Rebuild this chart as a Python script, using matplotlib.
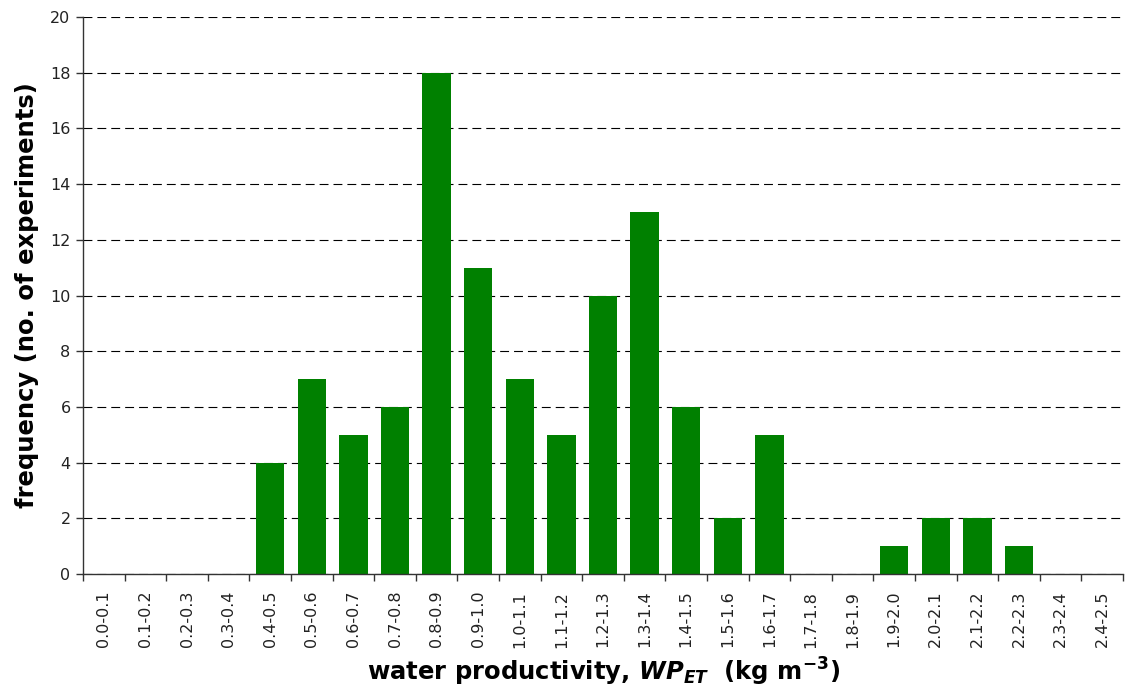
"""Histogram of water productivity (WP_ET) across experiments."""

import matplotlib

matplotlib.use("Agg")
import matplotlib.pyplot as plt
import numpy as np

bin_labels = [
    "0.0-0.1", "0.1-0.2", "0.2-0.3", "0.3-0.4", "0.4-0.5",
    "0.5-0.6", "0.6-0.7", "0.7-0.8", "0.8-0.9", "0.9-1.0",
    "1.0-1.1", "1.1-1.2", "1.2-1.3", "1.3-1.4", "1.4-1.5",
    "1.5-1.6", "1.6-1.7", "1.7-1.8", "1.8-1.9", "1.9-2.0",
    "2.0-2.1", "2.1-2.2", "2.2-2.3", "2.3-2.4", "2.4-2.5",
]
frequency = [0, 0, 0, 0, 4, 7, 5, 6, 18, 11, 7, 5, 10, 13, 6, 2, 5, 0, 0, 1, 2, 2, 1, 0, 0]
y_ticks = [0, 2, 4, 6, 8, 10, 12, 14, 16, 18, 20]

plt.rcParams["font.family"] = ["DejaVu Sans"]

fig = plt.figure(figsize=(11.28, 6.95), dpi=100)
ax = fig.add_axes([0.0736, 0.1741, 0.922, 0.8014])

x = np.arange(len(bin_labels))
ax.bar(x, frequency, width=0.68, color="#008000", zorder=3)

ax.set_xlim(-0.5, len(bin_labels) - 0.5)
ax.set_ylim(0, 20)

# category labels at centres, tick marks between categories
ax.set_xticks(x)
ax.set_xticklabels(bin_labels, rotation=90, fontsize=11.5, color="#222222")
ax.set_xticks(np.arange(len(bin_labels) + 1) - 0.5, minor=True)
ax.tick_params(axis="x", which="major", length=0, pad=12)
ax.tick_params(axis="x", which="minor", length=5, width=1, color="#333333")

ax.set_yticks(y_ticks)
ax.tick_params(axis="y", length=5, width=1, color="#333333",
               labelsize=11.5, labelcolor="#222222", pad=4)

ax.yaxis.grid(True, color="black", linewidth=0.8, linestyle=(0, (8, 4.5)), zorder=1)
ax.set_axisbelow(True)

for side in ("top", "right"):
    ax.spines[side].set_visible(False)
for side in ("left", "bottom"):
    ax.spines[side].set_color("#333333")
    ax.spines[side].set_linewidth(1)
    ax.spines[side].set_zorder(4)

ax.set_ylabel("frequency (no. of experiments)", fontsize=17.5, fontweight="bold", labelpad=8)
ax.set_xlabel(r"water productivity, $\mathbfit{WP}_{\mathbfit{ET}}$  (kg m$^{\mathbf{-3}}$)",
              fontsize=17.5, fontweight="bold", labelpad=6)

fig.savefig("out.png", dpi=100)
